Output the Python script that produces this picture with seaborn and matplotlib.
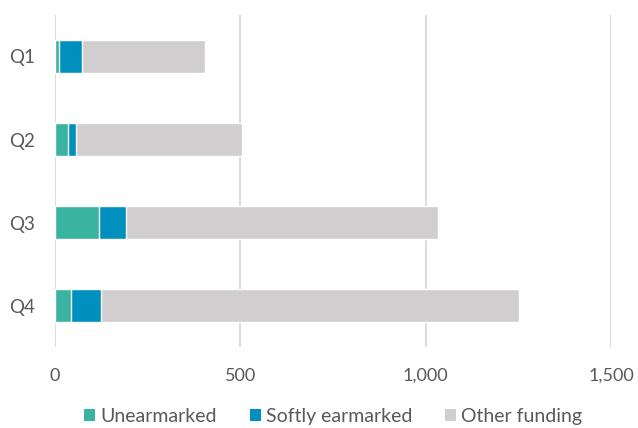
import matplotlib
matplotlib.use("Agg")
import matplotlib.pyplot as plt
import seaborn as sns
import pandas as pd
import numpy as np
from matplotlib.patches import Patch
from matplotlib.ticker import FuncFormatter

quarters = ["Q1", "Q2", "Q3", "Q4"]
unearmarked = [11, 34, 119, 42]
softly_earmarked = [61, 23, 73, 83]
other_funding = [333, 448, 841, 1127]

series_names = ["Unearmarked", "Softly earmarked", "Other funding"]
colors = ["#3AB3A0", "#0090BE", "#D0CECF"]

sns.set_theme(style="white")
plt.rcParams["font.family"] = ["Lato", "DejaVu Sans"]

df = pd.DataFrame({"quarter": quarters,
                   "Unearmarked": unearmarked,
                   "Softly earmarked": softly_earmarked,
                   "Other funding": other_funding})
df["c1"] = df["Unearmarked"]
df["c2"] = df["c1"] + df["Softly earmarked"]
df["c3"] = df["c2"] + df["Other funding"]

fig = plt.figure(figsize=(6.38, 4.28), dpi=100)
ax = fig.add_axes([0.0862, 0.189, 0.8715, 0.776])

for col, c in zip(["c3", "c2", "c1"], colors[::-1]):
    sns.barplot(data=df, x=col, y="quarter", order=quarters, color=c,
                width=0.4, orient="h", ax=ax, saturation=1)

ax.set_xlim(0, 1500)
ax.set_xticks([0, 500, 1000, 1500])
ax.xaxis.set_major_formatter(FuncFormatter(lambda v, p: f"{int(v):,}"))
ax.grid(axis="x", color="#D9D9D9", linewidth=1.3)
ax.set_axisbelow(True)
for s in ax.spines.values():
    s.set_visible(False)
ax.set_xlabel("")
ax.set_ylabel("")
ax.tick_params(axis="x", length=0, pad=15, labelsize=13, labelcolor="#595959")
ax.tick_params(axis="y", length=0, pad=14.5, labelsize=13.5, labelcolor="#595959")

handles = [Patch(facecolor=c, edgecolor="none") for c in colors]
fig.legend(handles, series_names, loc="center", bbox_to_anchor=(0.522, 0.027),
           ncol=3, frameon=False, fontsize=14, handlelength=0.57, handleheight=0.57,
           handletextpad=0.25, columnspacing=1.7, labelcolor="#595959")

fig.savefig("out.png", dpi=100)
